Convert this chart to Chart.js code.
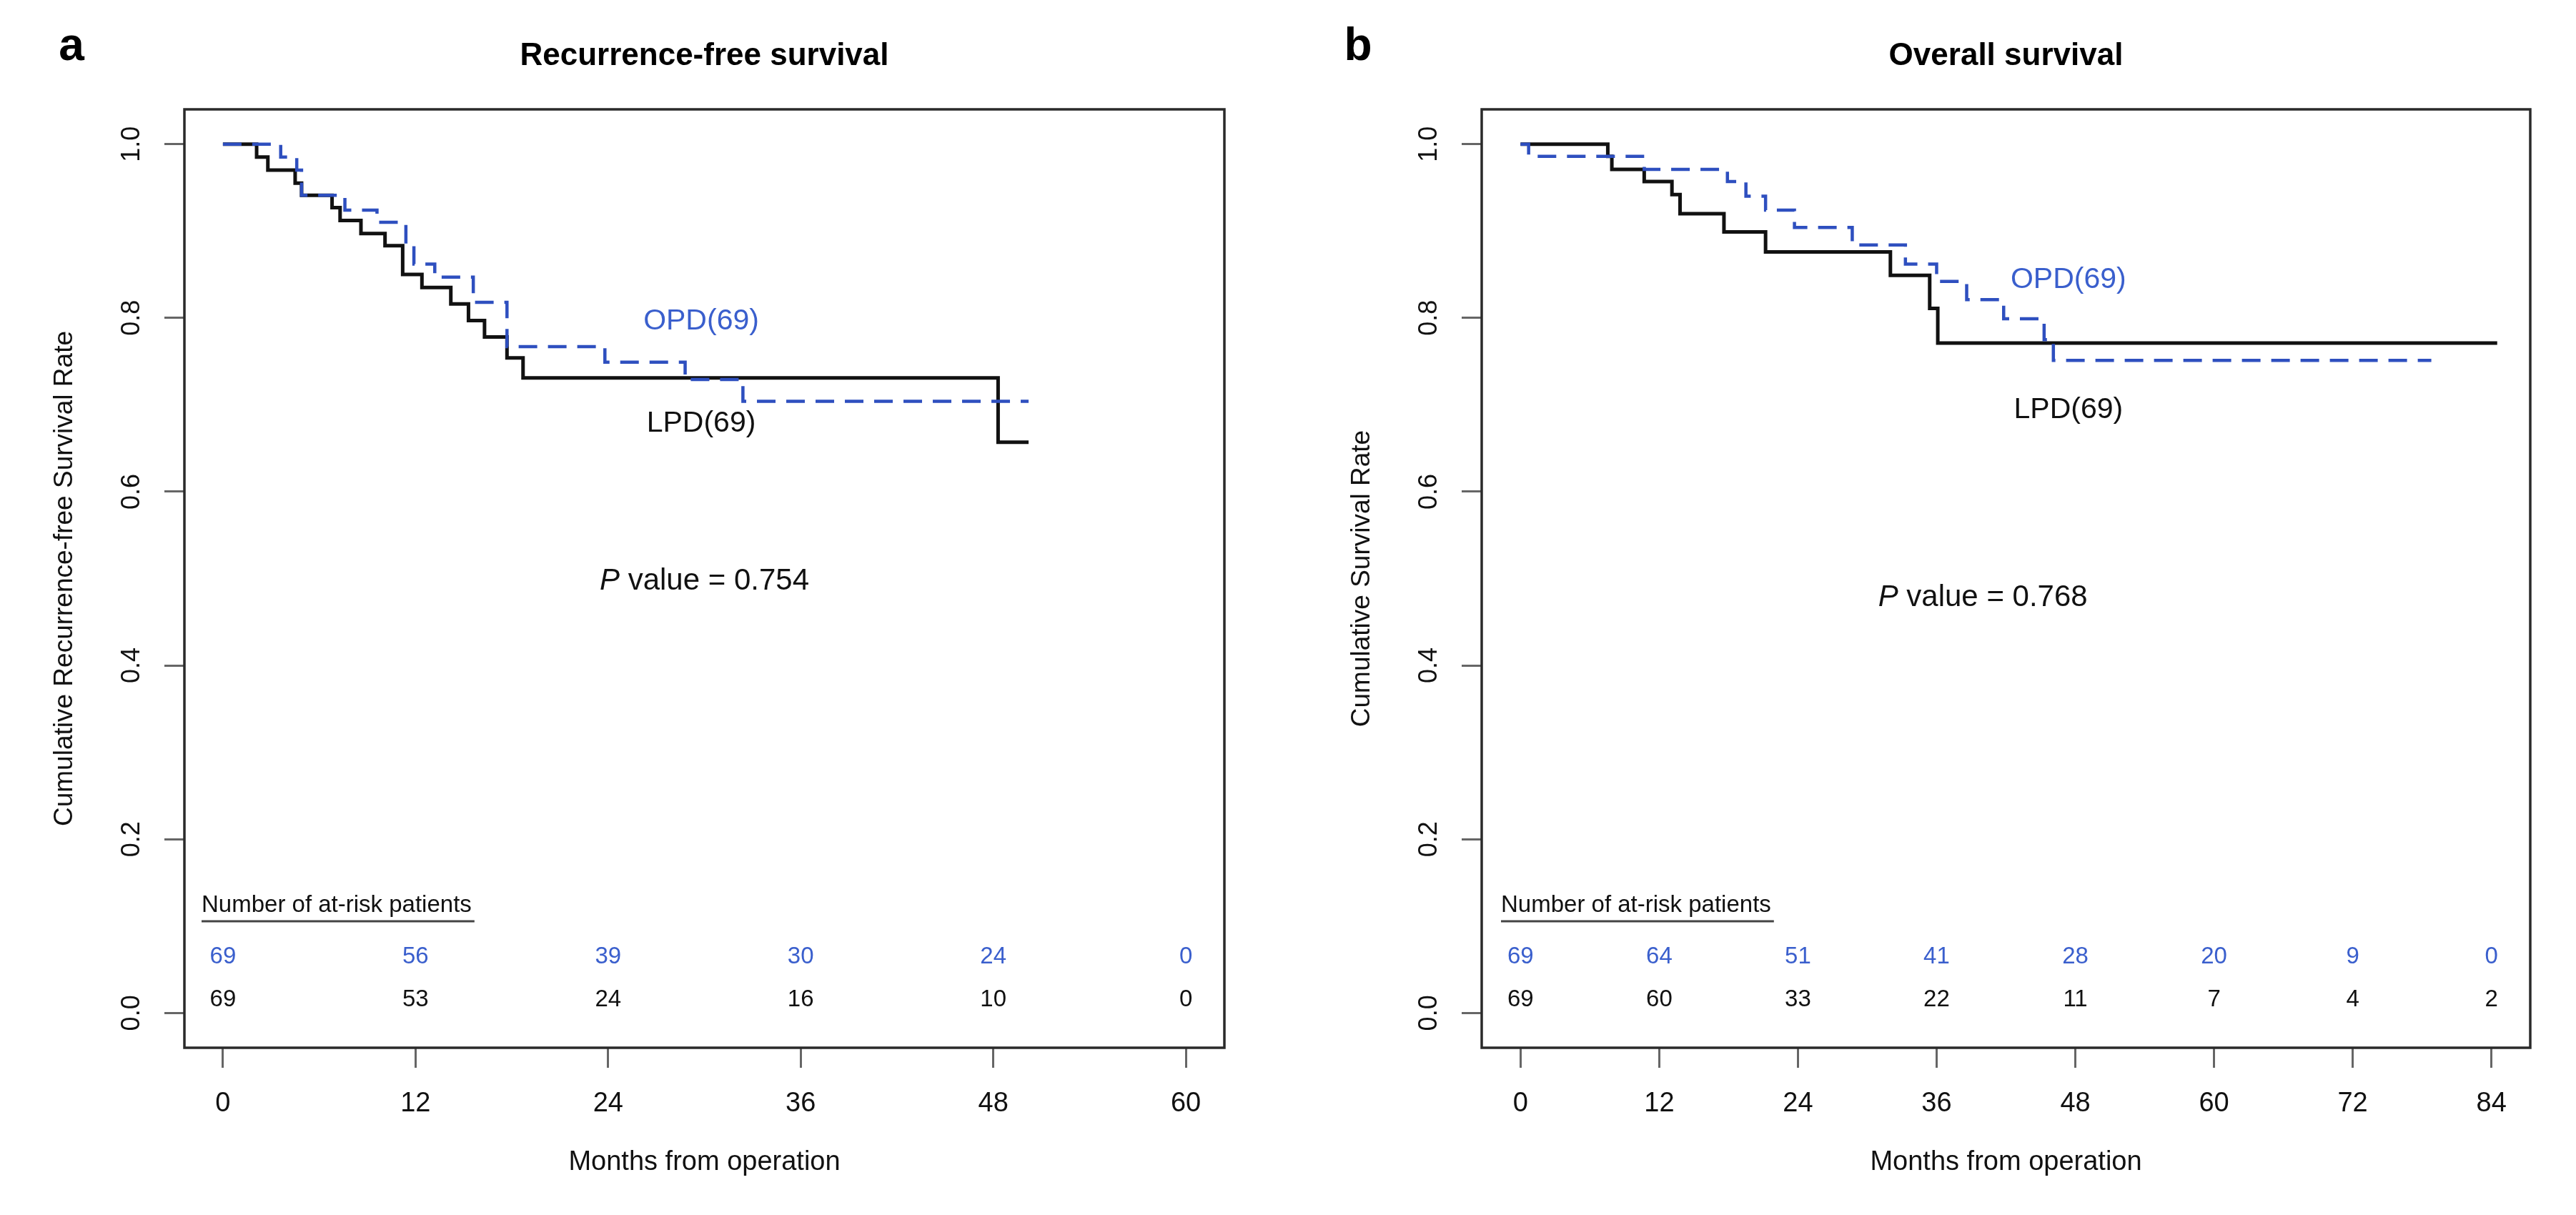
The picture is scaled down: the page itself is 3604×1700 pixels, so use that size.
<!DOCTYPE html>
<html><head><meta charset="utf-8">
<script src="https://cdn.jsdelivr.net/npm/chart.js@4"></script>
<style>
html,body{margin:0;padding:0;background:#fff;}
#wrap{position:relative;width:3604px;height:1700px;background:#fff;}
canvas{position:absolute;top:0;}
</style></head><body>
<div id="wrap">
<canvas id="ca" width="1802" height="1700" style="left:0;width:1802px;height:1700px"></canvas>
<canvas id="cb" width="1802" height="1700" style="left:1802px;width:1802px;height:1700px"></canvas>
</div>
<script>
// ---------- data ----------
const rfsXTicks = [0, 12, 24, 36, 48, 60];
const osXTicks = [0, 12, 24, 36, 48, 60, 72, 84];
const yTicks = [0, 0.2, 0.4, 0.6, 0.8, 1.0];

// Recurrence-free survival
const rfsLpdTime = [0, 2.1, 2.8, 4.5, 4.9, 6.8, 7.3, 8.6, 10.1, 11.2, 12.4, 14.2, 15.3, 16.3, 17.7, 18.7, 48.3, 50.2];
const rfsLpdSurv = [1.0, 0.985, 0.970, 0.955, 0.941, 0.927, 0.912, 0.897, 0.883, 0.850, 0.835, 0.816, 0.797, 0.778, 0.754, 0.731, 0.657, 0.657];
const rfsOpdTime = [0, 3.6, 4.6, 4.9, 7.6, 9.6, 11.4, 11.9, 13.2, 15.6, 17.7, 23.8, 28.8, 32.4, 50.2];
const rfsOpdSurv = [1.0, 0.985, 0.970, 0.941, 0.924, 0.910, 0.883, 0.862, 0.847, 0.818, 0.767, 0.749, 0.729, 0.704, 0.704];
const rfsOpdRisk = [69, 56, 39, 30, 24, 0];
const rfsLpdRisk = [69, 53, 24, 16, 10, 0];

// Overall survival
const osLpdTime = [0, 7.55, 7.9, 10.7, 13.1, 13.8, 17.6, 21.2, 32.0, 35.4, 36.1, 84.5];
const osLpdSurv = [1.0, 0.986, 0.971, 0.957, 0.942, 0.920, 0.899, 0.876, 0.849, 0.811, 0.771, 0.771];
const osOpdTime = [0, 0.7, 10.7, 17.9, 19.5, 21.2, 23.7, 28.7, 33.3, 36.0, 38.6, 41.8, 45.3, 46.1, 78.8];
const osOpdSurv = [1.0, 0.986, 0.971, 0.957, 0.940, 0.924, 0.904, 0.884, 0.862, 0.842, 0.821, 0.799, 0.775, 0.751, 0.751];
const osOpdRisk = [69, 64, 51, 41, 28, 20, 9, 0];
const osLpdRisk = [69, 60, 33, 22, 11, 7, 4, 2];

// ---------- styling ----------
const FONT = '"Liberation Sans", Arial, Helvetica, sans-serif';
const BLUE_LINE = '#2E4FBF';
const BLUE_TEXT = '#3A5FCD';
const BLACK = '#111111';

function pts(t, s) { return t.map((x, i) => ({x: x, y: s[i]})); }

function makePanel(id, p) {
  const textPlugin = {
    id: 'txt' + id,
    afterDraw(chart) {
      const ctx = chart.ctx;
      const a = chart.chartArea;
      const xs = chart.scales.x, ys = chart.scales.y;
      ctx.save();
      // box
      ctx.strokeStyle = '#2a2a2a';
      ctx.lineWidth = 3.5;
      ctx.strokeRect(a.left, a.top, a.right - a.left, a.bottom - a.top);
      // panel letter
      ctx.fillStyle = '#000';
      ctx.textAlign = 'center';
      ctx.textBaseline = 'alphabetic';
      ctx.font = 'bold 64px ' + FONT;
      ctx.fillText(p.letter, p.letterX, 84);
      // title
      ctx.font = 'bold 44px ' + FONT;
      ctx.fillText(p.title, (a.left + a.right) / 2, 91);
      // group labels
      ctx.textBaseline = 'middle';
      ctx.font = '41px ' + FONT;
      ctx.fillStyle = BLUE_TEXT;
      ctx.fillText('OPD(69)', xs.getPixelForValue(p.opdLab[0]), ys.getPixelForValue(p.opdLab[1]));
      ctx.fillStyle = BLACK;
      ctx.fillText('LPD(69)', xs.getPixelForValue(p.lpdLab[0]), ys.getPixelForValue(p.lpdLab[1]));
      // P value
      ctx.font = 'italic 42px ' + FONT;
      const wP = ctx.measureText('P').width;
      ctx.font = '42px ' + FONT;
      const rest = ' value = ' + p.pval;
      const wR = ctx.measureText(rest).width;
      const cx = xs.getPixelForValue(p.pLab[0]);
      const cy = ys.getPixelForValue(p.pLab[1]);
      let x0 = cx - (wP + wR) / 2;
      ctx.textAlign = 'left';
      ctx.font = 'italic 42px ' + FONT;
      ctx.fillText('P', x0, cy);
      ctx.font = '42px ' + FONT;
      ctx.fillText(rest, x0 + wP, cy);
      // at-risk header
      ctx.font = '33px ' + FONT;
      ctx.fillStyle = '#111';
      const hx = a.left + p.headerDx;
      const hy = a.bottom - 199;
      ctx.fillText('Number of at-risk patients', hx, hy);
      const hw = ctx.measureText('Number of at-risk patients').width;
      ctx.strokeStyle = '#444';
      ctx.lineWidth = 3;
      ctx.beginPath();
      ctx.moveTo(hx, a.bottom - 177);
      ctx.lineTo(hx + hw + 4, a.bottom - 177);
      ctx.stroke();
      // at-risk numbers
      ctx.textAlign = 'center';
      p.ticks.forEach((t, i) => {
        const px = xs.getPixelForValue(t);
        ctx.fillStyle = BLUE_TEXT;
        ctx.fillText(String(p.opdRisk[i]), px, a.bottom - 127);
        ctx.fillStyle = '#111';
        ctx.fillText(String(p.lpdRisk[i]), px, a.bottom - 67);
      });
      ctx.restore();
    }
  };

  return new Chart(document.getElementById(id), {
    type: 'line',
    data: {
      datasets: [
        {
          label: 'OPD(69)',
          data: pts(p.opdT, p.opdS),
          borderColor: BLUE_LINE,
          borderWidth: 4.5,
          borderDash: [26, 15],
          stepped: 'before',
          pointRadius: 0,
          fill: false
        },
        {
          label: 'LPD(69)',
          data: pts(p.lpdT, p.lpdS),
          borderColor: BLACK,
          borderWidth: 5,
          stepped: 'before',
          pointRadius: 0,
          fill: false
        }
      ]
    },
    options: {
      responsive: false,
      animation: false,
      devicePixelRatio: 1,
      layout: {padding: {left: 0, top: 153, right: p.padRight, bottom: 0}},
      plugins: {legend: {display: false}, tooltip: {enabled: false}, title: {display: false}},
      scales: {
        x: {
          type: 'linear',
          min: p.xMin, max: p.xMax,
          afterBuildTicks: (s) => { s.ticks = p.ticks.map(v => ({value: v})); },
          afterFit: (s) => { s.height = 234; },
          grid: {display: true, drawOnChartArea: false, drawTicks: true, tickLength: 28, color: '#666', lineWidth: 3},
          border: {display: false},
          ticks: {font: {size: 38, family: FONT}, color: '#111', padding: 28, maxRotation: 0, autoSkip: false,
                  callback: (v) => String(v)},
          title: {display: true, text: 'Months from operation', font: {size: 38, family: FONT}, color: '#111',
                  padding: {top: 0, bottom: 51}}
        },
        y: {
          type: 'linear',
          min: -0.04, max: 1.04,
          afterBuildTicks: (s) => { s.ticks = yTicks.map(v => ({value: v})); },
          afterFit: (s) => { s.width = p.yWidth; },
          grid: {display: true, drawOnChartArea: false, drawTicks: true, tickLength: 28, color: '#666', lineWidth: 3},
          border: {display: false},
          ticks: {font: {size: 36, family: FONT}, color: '#111', padding: 20, minRotation: 90, maxRotation: 90,
                  crossAlign: 'center', autoSkip: false, callback: (v) => Number(v).toFixed(1)},
          title: {display: true, text: p.yTitle, font: {size: 37, family: FONT}, color: '#111',
                  padding: {top: p.yTitlePad, bottom: 0}}
        }
      }
    },
    plugins: [textPlugin]
  });
}

makePanel('ca', {
  letter: 'a', letterX: 100, title: 'Recurrence-free survival',
  yTitle: 'Cumulative Recurrence-free Survival Rate', yTitlePad: 69, yWidth: 258, padRight: 89,
  xMin: -2.4, xMax: 62.4, ticks: rfsXTicks,
  opdT: rfsOpdTime, opdS: rfsOpdSurv, lpdT: rfsLpdTime, lpdS: rfsLpdSurv,
  opdRisk: rfsOpdRisk, lpdRisk: rfsLpdRisk,
  opdLab: [29.8, 0.796], lpdLab: [29.8, 0.678], pLab: [30, 0.497], pval: '0.754',
  headerDx: 24
});

makePanel('cb', {
  letter: 'b', letterX: 98, title: 'Overall survival',
  yTitle: 'Cumulative Survival Rate', yTitlePad: 82, yWidth: 271, padRight: 64,
  xMin: -3.36, xMax: 87.36, ticks: osXTicks,
  opdT: osOpdTime, opdS: osOpdSurv, lpdT: osLpdTime, lpdS: osLpdSurv,
  opdRisk: osOpdRisk, lpdRisk: osLpdRisk,
  opdLab: [47.4, 0.844], lpdLab: [47.4, 0.694], pLab: [40, 0.478], pval: '0.768',
  headerDx: 27
});
</script>
</body></html>
